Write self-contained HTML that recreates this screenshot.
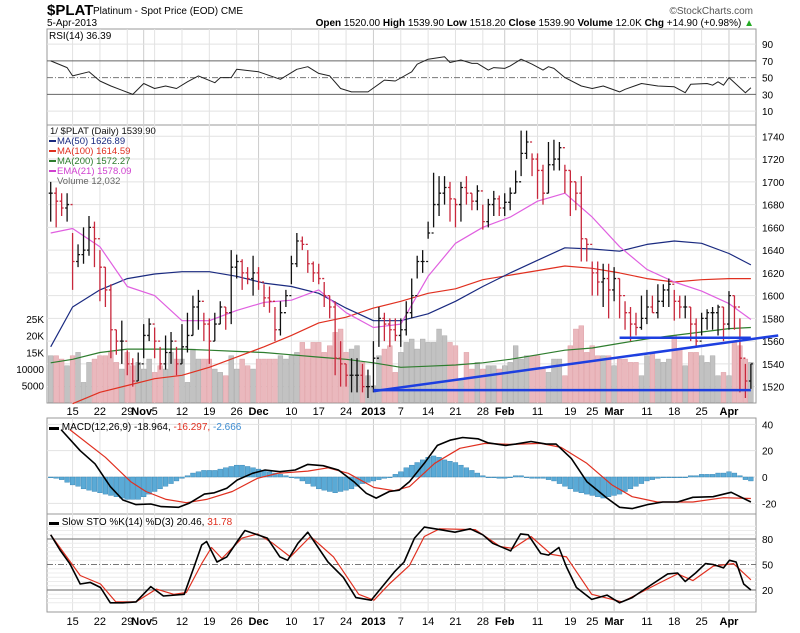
<!DOCTYPE html>
<html><head><meta charset="utf-8"><style>
body{margin:0;background:#fff;}
svg text{font-family:"Liberation Sans",sans-serif;}
</style></head><body>
<svg id="c" width="800" height="628" xmlns="http://www.w3.org/2000/svg">
<text x="47" y="15" font-size="15" font-weight="bold">$PLAT</text>
<text x="93" y="14" font-size="10">Platinum  - Spot Price (EOD) CME</text>
<text x="47" y="26" font-size="10">5-Apr-2013</text>
<text x="753" y="14" font-size="10" fill="#555" text-anchor="end">©StockCharts.com</text>
<text x="754" y="26" font-size="10" text-anchor="end"><tspan font-weight="bold">Open</tspan> 1520.00 <tspan font-weight="bold">High</tspan> 1539.90 <tspan font-weight="bold">Low</tspan> 1518.20 <tspan font-weight="bold">Close</tspan> 1539.90 <tspan font-weight="bold">Volume</tspan> 12.0K <tspan font-weight="bold">Chg</tspan> +14.90 (+0.98%) <tspan fill="#2a2">▲</tspan></text>
<g id="g"></g>
</svg>
<script>
// ---- data ----
const tickBars=[4,9,14,17,19,24,29,34,38,44,49,54,59,64,69,74,79,83,89,95,99,103,109,114,119,124];
const tickLabels=["15","22","29","Nov","5","12","19","26","Dec","10","17","24","2013","7","14","21","28","Feb","11","19","25","Mar","11","18","25","Apr"];
const tickBold=[0,0,0,1,0,0,0,0,1,0,0,0,1,0,0,0,0,1,0,0,0,1,0,0,0,1];
const closes=[1690,1683,1677,1680,1630,1636,1640,1660,1650,1625,1605,1570,1560,1560,1540,1525,1540,1565,1575,1560,1540,1550,1560,1540,1555,1565,1590,1595,1575,1560,1575,1590,1585,1625,1630,1620,1615,1620,1612,1598,1595,1570,1585,1600,1628,1648,1645,1628,1620,1615,1600,1590,1545,1540,1530,1530,1530,1520,1520,1545,1580,1575,1570,1565,1570,1585,1600,1630,1630,1655,1680,1690,1695,1685,1680,1695,1690,1683,1692,1665,1680,1685,1677,1682,1690,1700,1725,1735,1720,1710,1690,1715,1720,1730,1710,1700,1690,1650,1645,1620,1612,1615,1605,1615,1600,1585,1575,1572,1580,1590,1585,1595,1605,1610,1595,1590,1590,1575,1560,1580,1585,1585,1590,1575,1600,1590,1545,1525,1540];
const highs=[1700,1695,1690,1690,1655,1645,1660,1670,1665,1640,1625,1610,1570,1578,1552,1545,1550,1575,1580,1572,1555,1565,1568,1555,1575,1585,1600,1605,1585,1580,1585,1595,1590,1640,1636,1632,1625,1635,1625,1610,1608,1590,1595,1605,1635,1655,1652,1640,1630,1628,1612,1600,1595,1560,1540,1545,1545,1540,1535,1560,1590,1585,1580,1580,1580,1595,1615,1635,1640,1665,1708,1705,1705,1700,1685,1700,1705,1690,1697,1680,1685,1692,1688,1690,1695,1710,1745,1745,1725,1725,1715,1735,1737,1735,1715,1710,1700,1705,1650,1630,1630,1628,1628,1625,1615,1595,1590,1585,1600,1605,1600,1610,1610,1615,1605,1600,1600,1590,1580,1585,1588,1590,1592,1590,1604,1600,1580,1540,1540];
const lows=[1665,1660,1670,1665,1605,1625,1628,1635,1625,1595,1590,1545,1548,1540,1530,1520,1525,1545,1560,1545,1535,1535,1540,1530,1540,1550,1565,1570,1560,1540,1560,1575,1570,1575,1615,1605,1610,1600,1605,1590,1585,1560,1565,1590,1610,1625,1640,1620,1612,1610,1590,1580,1530,1520,1520,1515,1515,1515,1510,1515,1555,1560,1555,1560,1555,1565,1580,1615,1620,1650,1660,1670,1680,1665,1660,1665,1680,1675,1675,1658,1660,1670,1670,1670,1675,1690,1705,1720,1705,1685,1680,1690,1710,1710,1690,1670,1675,1630,1630,1600,1600,1590,1580,1595,1580,1570,1560,1565,1570,1575,1585,1580,1590,1590,1578,1580,1580,1560,1555,1565,1570,1570,1565,1560,1570,1570,1515,1510,1518];
const volumes=[14,14,13,11,14,15,6,12,13,14,14,15,12,10,15,11,12,10,13,9,11,10,15,13,13,6,16,13,13,13,10,9,8,14,10,13,11,10,13,13,13,13,14,13,14,15,18,16,18,18,15,17,21,22,15,16,17,12,8,5,14,16,17,9,15,18,19,16,19,18,18,22,20,18,17,7,15,10,12,10,11,11,10,11,12,17,13,14,14,14,10,9,13,13,8,17,22,23,15,17,14,14,14,11,13,13,12,12,8,14,15,13,12,13,20,16,11,15,15,14,12,14,8,9,8,18,17,13,12];
const maBars=[0,4,9,14,19,24,29,34,39,44,49,54,59,64,69,74,79,84,89,94,99,104,109,114,119,124,128];
const ma50=[1555,1590,1605,1615,1619,1621,1621,1617,1611,1608,1602,1589,1578,1578,1584,1595,1608,1620,1631,1642,1641,1639,1645,1648,1646,1637,1627];
const ma200=[1541,1544,1550,1553,1553,1553,1552,1551,1550,1548,1546,1544,1541,1537,1538,1539,1541,1544,1548,1552,1554,1558,1562,1565,1568,1571,1572];
const ema21=[1655,1659,1643,1608,1600,1578,1578,1587,1594,1596,1605,1585,1572,1575,1617,1646,1660,1669,1683,1690,1669,1643,1623,1612,1604,1593,1579];
const ma100Bars=[4,9,14,19,24,29,34,39,44,49,54,59,64,69,74,79,84,89,94,99,104,109,114,119,124,128];
const ma100=[1505,1515,1521,1527,1530,1537,1546,1555,1565,1576,1581,1589,1595,1602,1606,1614,1618,1622,1626,1624,1620,1615,1612,1614,1615,1615];
const rsiBars=[0,3,4,7,9,11,13,15,17,19,21,23,25,27,30,31,33,34,38,42,45,47,49,51,53,55,58,61,63,66,67,69,72,73,75,77,78,80,81,83,84,86,88,90,91,92,94,97,99,101,104,105,108,111,114,116,117,120,121,122,123,124,127,128];
const rsiVals=[70,62,52,57,46,40,35,30,43,37,40,37,45,52,44,50,50,60,57,48,60,63,55,52,37,33,33,47,46,57,66,72,75,68,71,67,67,59,62,61,64,72,66,59,63,61,50,40,37,40,33,36,43,40,39,32,42,43,41,45,41,50,32,38];
const macdBars=[1.9,5.4,8.1,10.9,13.2,15.6,18.3,20.2,23.4,25.3,28.1,29.9,32.2,34.1,36.9,39.2,41.9,44.7,47,49.8,52.6,55.4,57.7,59.5,61.9,63.7,65.6,68.3,70.7,73,75.3,78.1,79.9,83.2,85,87.8,90.6,92.4,95.2,98,101.7,104,106.3,109.1,111.9,114.6,117.4,121.1,124.4,128];
const macdVals=[36,20,10,-7.3,-17.5,-21,-20.5,-22.5,-23,-20,-13,-12,-8.6,-2.3,2.8,5.3,4,5.3,9.6,8.6,5.3,-3.5,-12.4,-16,-11,-10,-3.5,10.4,24,28,30,29,26,24,25,27,25,25,14,-3.5,-16,-23,-24,-21,-19,-19,-15.4,-15,-11.6,-18.96];
const sigBars=[3.5,10,14.6,17.4,21.1,24.8,28.5,33.2,37.8,41.5,47,50.7,54.4,59.1,62.8,65.6,70.2,74.8,79.4,84.1,89.6,93.3,98,102.6,106.3,110.9,117.4,123,128];
const sigVals=[36,15,-3.5,-11,-17,-19.5,-17,-11,-1,2.8,4.5,7,2.8,-8,-10.4,-7.3,10.4,21.8,25.5,24.8,25.5,22.5,10.4,-6,-15,-19,-19,-15.7,-16.3];
const histVals=[0,-1,-2,-4,-6,-7,-9,-10,-11,-12,-13,-14,-15,-16,-17,-17,-17,-15,-13,-11,-9,-7,-5,-3,-1,1,3,4,5,5,5,6,7,8,9,9,8,7,6,5,4,3,2,1,0,-1,-3,-5,-7,-9,-10,-11,-12,-11,-10,-9,-7,-5,-4,-3,-2,-1,0,2,4,7,9,11,13,15,16,15,13,12,11,9,7,5,3,1,0,0,-1,-1,0,1,1,0,-1,-1,-1,-2,-3,-5,-7,-9,-11,-12,-13,-14,-15,-16,-15,-14,-13,-11,-9,-7,-5,-3,-2,-1,0,0,0,0,0,1,1,2,2,2,3,3,4,3,1,-2,-3];
const kBars=[0,1.7,3.5,5.4,7.2,9.1,10.9,13.2,15.6,18.3,20.6,24.4,26.2,27.6,28.5,30.4,32.2,34.1,35.5,37.8,39.6,41.9,43.3,45.2,47,50.7,53.5,55.8,58.6,60.5,62.8,64.6,66.5,68.3,71.1,73.9,76.7,79,80.8,84.1,85.9,87.3,89.6,91,92.9,94.3,96.1,98.9,101.7,104,106.3,110,112.8,114.6,116,117.9,119.7,121.1,123,124.1,125.3,126.7,128];
const kVals=[85,67,51,27,29,23,5,5,6,24,13,15,47,73,77,53,59,77,90,85,81,59,55,75,88,53,35,11,8,23,41,53,81,94,91,88,92,85,75,66,86,85,63,61,70,47,23,9,14,5,11,27,39,40,30,40,51,50,46,55,53,27,20];
const dBars=[0,5.4,9.1,11.9,15.6,19.3,22.5,24.8,27.6,29.4,31.3,35,37.8,40.6,43.8,47.5,51.7,56.3,59.1,61.9,65.6,68.3,71.1,77.6,82.2,84.5,87.8,91.5,94.3,98.9,104.5,110.9,114.6,117.4,121.1,124.8,128];
const dVals=[85,37,27,6,6,21,15,17,51,70,57,81,86,75,59,83,59,15,8,27,49,83,92,91,71,69,83,62,59,15,6,27,39,31,48,51,32];
const priceTicks=[1520,1540,1560,1580,1600,1620,1640,1660,1680,1700,1720,1740];
const volTicks=[5,10,15,20,25];
const volTickLabels=["5000","10000","15K","20K","25K"];

// ---- layout ----
const L=47,R=756;
const X=b=>50.7+b*5.47;
const yP=p=>136.3+(1740-p)*1.138;
const yV=v=>402.4-v*3.333;
const yR=v=>119.5-v*0.8375;
const yM=v=>477-v*1.316;
const yS=v=>590-(v-20)*0.85;
const NS="http://www.w3.org/2000/svg";
const G=document.getElementById('g');
function el(t,a,txt){const e=document.createElementNS(NS,t);for(const k in a)e.setAttribute(k,a[k]);if(txt!=null)e.textContent=txt;G.appendChild(e);return e;}
function poly(bs,vs,fy,col,w,name){
  const p=el('polyline',{points:bs.map((b,i)=>X(b).toFixed(1)+','+fy(vs[i]).toFixed(1)).join(' '),fill:'none',stroke:col,'stroke-width':w,'stroke-linejoin':'round'});
  
  
}
function hline(y,x1,x2,col,w,dash,name){const l=el('line',{x1:x1,x2:x2,y1:y,y2:y,stroke:col,'stroke-width':w});if(dash)l.setAttribute('stroke-dasharray',dash);return l;}
const panels=[[29,125,'rsi-panel'],[125,403,'price-panel'],[418,514,'macd-panel'],[514,612,'sto-panel']];
panels.forEach(p=>{const r=el('rect',{x:L,y:p[0],width:R-L,height:p[1]-p[0],fill:'#fff',stroke:'#999','stroke-width':1});});
// vertical grid
panels.forEach(p=>tickBars.forEach((b,i)=>{const l=el('line',{x1:X(b),x2:X(b),y1:p[0],y2:p[1],stroke:tickBold[i]?'#ccc':'#e2e2e2','stroke-width':1});}));
// price grid & labels
priceTicks.forEach(t=>{hline(yP(t),L,R,'#e2e2e2',1,null,'price-gridline');const tx=el('text',{x:R+6,y:yP(t)+4,'font-size':10},t);});
volTicks.forEach((t,i)=>{const tx=el('text',{x:L-3,y:yV(t)+4,'font-size':10,'text-anchor':'end'},volTickLabels[i]);});
// date labels
[411,621].forEach(yy=>tickBars.forEach((b,i)=>{const tx=el('text',{x:X(b)+(tickLabels[i]==='Nov'?-2:0),y:yy+4,'font-size':11,'text-anchor':'middle','font-weight':tickBold[i]?'bold':'normal'},tickLabels[i]);}));
// volume
volumes.forEach((v,i)=>{const dn=i>0&&closes[i]<closes[i-1];const r=el('rect',{x:X(i)-2.4,y:yV(v),width:4.8,height:402.4-yV(v),fill:dn?'#eab8bd':'#c2c2c2',stroke:dn?'#dfa0a6':'#aaa','stroke-width':0.5});});
// MAs
poly(maBars,ma200,yP,'#2e7d2e',1.2,'ma200-line');
poly(ma100Bars,ma100,yP,'#e03020',1.2,'ma100-line');
poly(maBars,ma50,yP,'#1a2a80',1.2,'ma50-line');
poly(maBars,ema21,yP,'#e060e0',1.2,'ema21-line');
// price bars
closes.forEach((c,i)=>{const o=i>0?closes[i-1]:c;const dn=i>0&&c<o;const col=dn?'#c8283c':'#111';const x=X(i);
 const g=el('path',{d:`M${x},${yP(highs[i])}V${yP(lows[i])}M${x-2},${yP(o)}H${x}M${x},${yP(c)}H${x+2}`,stroke:col,'stroke-width':1.3,fill:'none'});
 });
// trendlines
const tl=el('line',{x1:X(59),y1:yP(1516),x2:X(133),y2:yP(1565),stroke:'#1d3fe0','stroke-width':2.5});
hline(yP(1517),X(59),X(128),'#1d3fe0',2.5,null,'support-line');
hline(yP(1563),X(104),X(128),'#1d3fe0',2.5,null,'resistance-line');
// price legend
const leg=[["1/ $PLAT (Daily) 1539.90","#111"],["MA(50) 1626.89","#1a2a80"],["MA(100) 1614.59","#e03020"],["MA(200) 1572.27","#2e7d2e"],["EMA(21) 1578.09","#d040d0"],["Volume 12,032","#666"]];
leg.forEach((l,i)=>{const y=134+i*10;if(i>0&&i<5){const m=el('line',{x1:49,x2:56,y1:y-3,y2:y-3,stroke:l[1],'stroke-width':2});}
 const t=el('text',{x:i==0?50:57,y:y,'font-size':9.5,fill:l[1]},l[0]);});
// RSI
[90,70,50,30,10].forEach(v=>{hline(yR(v),L,R,v==70||v==30?'#666':(v==50?'#777':'#e2e2e2'),1,v==50?'6,2,1,2':null,'rsi-gridline');const t=el('text',{x:R+6,y:yR(v)+4,'font-size':10},v);});
poly(rsiBars,rsiVals,yR,'#222',1,'rsi-line');
const rt=el('text',{x:49,y:39,'font-size':10},'RSI(14) 36.39');
// MACD
[40,20,0,-20].forEach(v=>{hline(yM(v),L,R,'#e2e2e2',1,null,'macd-gridline');const t=el('text',{x:R+6,y:yM(v)+4,'font-size':10},v);});
histVals.forEach((h,i)=>{const y0=yM(0),y1=yM(h);const r=el('rect',{x:X(i)-2.4,y:Math.min(y0,y1),width:4.8,height:Math.max(0.8,Math.abs(y1-y0)),fill:'#5aaad6',stroke:'#2f7fb0','stroke-width':0.4});});
poly(sigBars,sigVals,yM,'#e03020',1.2,'macd-signal-line');
poly(macdBars,macdVals,yM,'#000',1.6,'macd-line');
const mt=el('text',{x:49,y:430,'font-size':10},'');
mt.innerHTML='<tspan>▬ MACD(12,26,9) -18.964, </tspan><tspan fill="#e03020">-16.297, </tspan><tspan fill="#3a8ad0">-2.666</tspan>';
// STO
[95,90,85,75,70,65,60,55,45,40,35,30,25,15,10,5].forEach(v=>hline(yS(v),L,R,'#ececec',1,null,'sto-gridline'));
[80,50,20].forEach(v=>{hline(yS(v),L,R,v==50?'#777':'#888',v==50?1:1.3,v==50?'6,2,1,2':null,'sto-level-line');const t=el('text',{x:R+6,y:yS(v)+4,'font-size':10},v);});
poly(dBars,dVals,yS,'#e03020',1.2,'sto-d-line');
poly(kBars,kVals,yS,'#000',1.6,'sto-k-line');
const st=el('text',{x:49,y:525,'font-size':10},'');
st.innerHTML='<tspan>▬ Slow STO %K(14) %D(3) 20.46, </tspan><tspan fill="#e03020">31.78</tspan>';
</script>
</body></html>
